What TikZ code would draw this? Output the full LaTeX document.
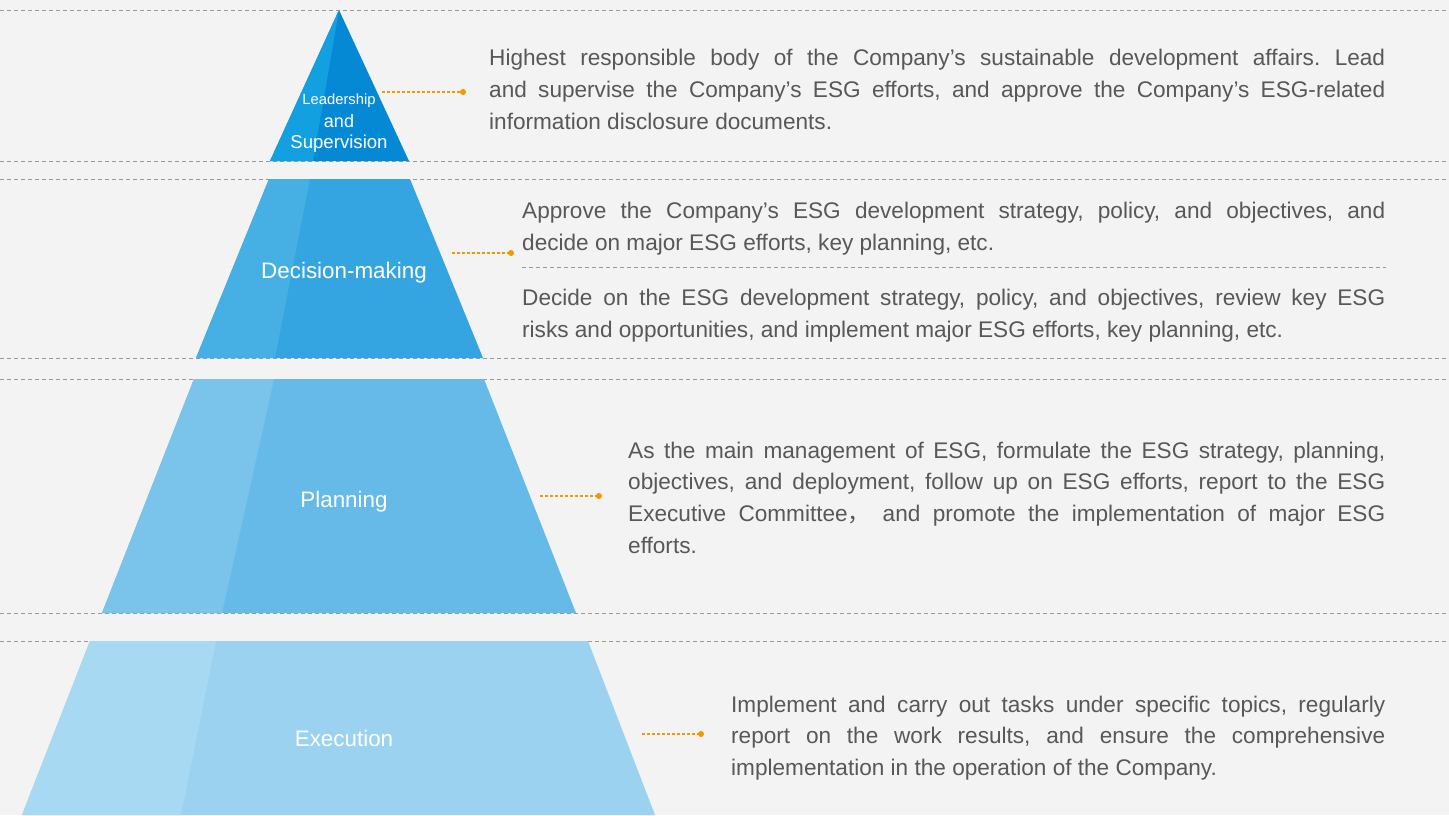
\documentclass[tikz,border=0pt]{standalone}
\usepackage{fontspec}
\setmainfont{Liberation Sans}
\newfontfamily\cjk{Noto Sans CJK SC}
\definecolor{bg}{HTML}{F2F3F2}
\definecolor{txt}{HTML}{595757}
\definecolor{sep}{HTML}{9A9A9A}
\definecolor{orng}{HTML}{F39800}
\definecolor{tAmain}{HTML}{0689D5}
\definecolor{tAlight}{HTML}{12A0E1}
\definecolor{tBmain}{HTML}{34A5E0}
\definecolor{tBlight}{HTML}{46AFE3}
\definecolor{tCmain}{HTML}{66BAE8}
\definecolor{tClight}{HTML}{7AC4EB}
\definecolor{tDmain}{HTML}{9AD2EF}
\definecolor{tDlight}{HTML}{A8D9F2}
\newcommand\jl[1]{\makebox[\linewidth][s]{#1}}
\frenchspacing
\begin{document}
\begin{tikzpicture}[x=1pt,y=-1pt,
  sepline/.style={draw=sep,line width=0.9pt,dash pattern=on 4pt off 3pt},
  conn/.style={draw=orng,line width=1.1pt,dash pattern=on 3pt off 2pt},
  cdot/.style={circle,fill=orng,inner sep=0pt,minimum size=6pt},
  para/.style={anchor=base west,inner sep=0pt,text=txt},
  tierlabel/.style={anchor=base,inner sep=0pt,text=white,font=\fontsize{22.4}{26}\selectfont}]
\useasboundingbox (0,0) rectangle (1449,815);
\fill[bg] (0,0) rectangle (1449,815);

% separator lines
\foreach \yy in {10,161,179,358,379,613,641}
  \draw[sepline] (0,\yy) -- (1449,\yy);

% tier 1
\fill[tAmain] (339,10) -- (409,161) -- (270,161) -- cycle;
\fill[tAlight] (339,10) -- (313,161) -- (270,161) -- cycle;
% tier 2
\fill[tBmain] (269,179) -- (410,179) -- (483,358) -- (196,358) -- cycle;
\fill[tBlight] (269,179) -- (310,179) -- (275,358) -- (196,358) -- cycle;
% tier 3
\fill[tCmain] (194,379) -- (484,379) -- (576,613) -- (102,613) -- cycle;
\fill[tClight] (194,379) -- (274,379) -- (222,613) -- (102,613) -- cycle;
% tier 4
\fill[tDmain] (90,641) -- (588,641) -- (655,815) -- (22,815) -- cycle;
\fill[tDlight] (90,641) -- (216,641) -- (181,815) -- (22,815) -- cycle;

% tier labels
\node[tierlabel,font=\fontsize{14.8}{17}\selectfont] (l1a) at (339,104) {Leadership};
\node[tierlabel,font=\fontsize{18}{21}\selectfont] (l1b) at (339,127) {and};
\node[tierlabel,font=\fontsize{18.6}{21}\selectfont] (l1c) at (339,148) {Supervision};
\node[tierlabel] (l2) at (344,278) {Decision-making};
\node[tierlabel] (l3) at (344,507) {Planning};
\node[tierlabel] (l4) at (344,746) {Execution};

% connectors
\coordinate (s1) at (382,92);  \node[cdot] (d1) at (463,92) {};
\coordinate (s2) at (452,253); \node[cdot] (d2) at (511,253) {};
\coordinate (s3) at (540,496); \node[cdot] (d3) at (599,496) {};
\coordinate (s4) at (642,734); \node[cdot] (d4) at (701,734) {};
\draw[conn] (s1) -- (d1.center);
\draw[conn] (s2) -- (d2.center);
\draw[conn] (s3) -- (d3.center);
\draw[conn] (s4) -- (d4.center);

% text blocks
\node[para] (t1) at (489,65) {\parbox[t]{896pt}{\fontsize{22.6}{32}\selectfont
\jl{Highest responsible body of the Company’s sustainable development affairs. Lead}\\
\jl{and supervise the Company’s ESG efforts, and approve the Company’s ESG-related}\\
information disclosure documents.}};

\node[para] (t2a) at (522,218) {\parbox[t]{863pt}{\fontsize{22.6}{32}\selectfont
\jl{Approve the Company’s ESG development strategy, policy, and objectives, and}\\
decide on major ESG efforts, key planning, etc.}};

\draw[sepline] (522,267) -- (1386,267);

\node[para] (t2b) at (522,305) {\parbox[t]{863pt}{\fontsize{22.6}{32}\selectfont
\jl{Decide on the ESG development strategy, policy, and objectives, review key ESG}\\
risks and opportunities, and implement major ESG efforts, key planning, etc.}};

\node[para] (t3) at (628,458) {\parbox[t]{757pt}{\fontsize{22.6}{31.8}\selectfont
\jl{As the main management of ESG, formulate the ESG strategy, planning,}\\
\jl{objectives, and deployment, follow up on ESG efforts, report to the ESG}\\
\jl{Executive Committee{\cjk ，} and promote the implementation of major ESG}\\
efforts.}};

\node[para] (t4) at (731,712) {\parbox[t]{654pt}{\fontsize{22.6}{31.8}\selectfont
\jl{Implement and carry out tasks under specific topics, regularly}\\
\jl{report on the work results, and ensure the comprehensive}\\
implementation in the operation of the Company.}};
\end{tikzpicture}
\end{document}
